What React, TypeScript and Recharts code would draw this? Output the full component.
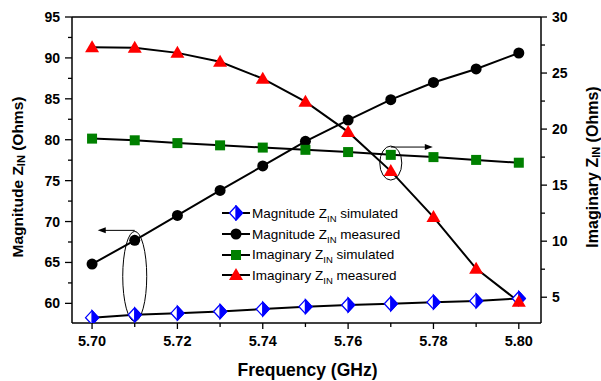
import { LineChart, Line, XAxis, YAxis, ReferenceLine, ReferenceDot, Legend } from 'recharts'

const freq = [5.70, 5.71, 5.72, 5.73, 5.74, 5.75, 5.76, 5.77, 5.78, 5.79, 5.80]
const magSimulated = [58.25, 58.6, 58.8, 59.0, 59.3, 59.6, 59.8, 59.95, 60.15, 60.3, 60.6]
const magMeasured = [64.8, 67.7, 70.75, 73.8, 76.8, 79.8, 82.4, 84.9, 87.0, 88.65, 90.6]
const imagSimulated = [19.15, 19.0, 18.75, 18.55, 18.35, 18.15, 17.95, 17.7, 17.5, 17.25, 17.0]
const imagMeasured = [27.3, 27.25, 26.8, 26.0, 24.5, 22.45, 19.75, 16.25, 12.15, 7.55, 4.6]

const xTicks = [5.70, 5.71, 5.72, 5.73, 5.74, 5.75, 5.76, 5.77, 5.78, 5.79, 5.80]
const leftTicks = [60, 62.5, 65, 67.5, 70, 72.5, 75, 77.5, 80, 82.5, 85, 87.5, 90, 92.5, 95]
const rightTicks = [5, 7.5, 10, 12.5, 15, 17.5, 20, 22.5, 25, 27.5, 30]

const data = freq.map((f, i) => ({
    f,
    magSim: magSimulated[i],
    magMeas: magMeasured[i],
    imagSim: imagSimulated[i],
    imagMeas: imagMeasured[i],
}))

const FONT = '"Liberation Sans", Arial, sans-serif'
const BLUE = '#0000ff'
const GREEN = '#008000'
const RED = '#ff0000'

function Diamond({ cx, cy }: any) {
    return (
        <g>
            <polygon points={`${cx},${cy - 7} ${cx + 6.5},${cy} ${cx},${cy + 7} ${cx - 6.5},${cy}`} fill="#fff" stroke={BLUE} strokeWidth={1.3} />
            <polygon points={`${cx},${cy - 7} ${cx + 6.5},${cy} ${cx},${cy + 7}`} fill={BLUE} stroke={BLUE} strokeWidth={1.3} />
        </g>
    )
}
function Circle({ cx, cy }: any) {
    return <circle cx={cx} cy={cy} r={5.5} fill="#000" />
}
function Square({ cx, cy }: any) {
    return <rect x={cx - 5} y={cy - 5} width={10} height={10} fill={GREEN} />
}
function Triangle({ cx, cy }: any) {
    return <polygon points={`${cx},${cy - 7} ${cx + 7},${cy + 5} ${cx - 7},${cy + 5}`} fill={RED} />
}

const XTick = ({ x, y, payload }: any) => {
    const major = Math.round(payload.value * 100) % 2 === 0
    return (
        <g>
            <line x1={x} x2={x} y1={y} y2={y + (major ? 6 : 4)} stroke="#000" strokeWidth={1.3} />
            {major && (
                <text x={x} y={y + 23} textAnchor="middle" fontFamily={FONT} fontWeight="bold" fontSize={14.5} fill="#000">
                    {payload.value.toFixed(2)}
                </text>
            )}
        </g>
    )
}
const TopTick = ({ x, y, payload }: any) => {
    const major = Math.round(payload.value * 100) % 2 === 0
    return <line x1={x} x2={x} y1={y} y2={y + (major ? 6 : 4)} stroke="#000" strokeWidth={1.3} />
}
const LeftTick = ({ x, y, payload }: any) => {
    const major = payload.value % 5 === 0
    return (
        <g>
            <line x1={x - (major ? 7 : 4)} x2={x} y1={y} y2={y} stroke="#000" strokeWidth={1.3} />
            {major && (
                <text x={x - 12} y={y} dy={5} textAnchor="end" fontFamily={FONT} fontWeight="bold" fontSize={14} fill="#000">
                    {payload.value}
                </text>
            )}
        </g>
    )
}
const RightTick = ({ x, y, payload }: any) => {
    const major = payload.value % 5 === 0
    return (
        <g>
            <line x1={x} x2={x + (major ? 6 : 4)} y1={y} y2={y} stroke="#000" strokeWidth={1.3} />
            {major && (
                <text x={x + 11} y={y} dy={5} textAnchor="start" fontFamily={FONT} fontWeight="bold" fontSize={14} fill="#000">
                    {payload.value}
                </text>
            )}
        </g>
    )
}

const legendItems = [
    { name: 'Magnitude', kind: 'simulated', Marker: Diamond },
    { name: 'Magnitude', kind: 'measured', Marker: Circle },
    { name: 'Imaginary', kind: 'simulated', Marker: Square },
    { name: 'Imaginary', kind: 'measured', Marker: Triangle },
]

function LegendBox() {
    return (
        <div style={{ fontFamily: FONT, fontSize: 13.5, color: '#000' }}>
            {legendItems.map((it, i) => (
                <div key={i} style={{ display: 'flex', alignItems: 'center', height: 20.7, whiteSpace: 'nowrap' }}>
                    <svg width={28} height={16}>
                        <line x1={0} x2={28} y1={8} y2={8} stroke="#000" strokeWidth={2} />
                        <it.Marker cx={14} cy={8} />
                    </svg>
                    <span style={{ marginLeft: 2 }}>
                        {it.name} Z<span style={{ fontSize: 9.5, position: 'relative', top: 4 }}>IN</span> {it.kind}
                    </span>
                </div>
            ))}
        </div>
    )
}

function leftTitle({ viewBox }: any) {
    const x = viewBox.x - 5
    const y = viewBox.y + viewBox.height / 2 + 7
    return (
        <text x={x} y={y} transform={`rotate(-90, ${x}, ${y})`} textAnchor="middle" dominantBaseline="central" fontFamily={FONT} fontWeight="bold" fontSize={15.5} fill="#000">
            Magnitude Z<tspan fontSize={11} dy={4}>IN</tspan><tspan dy={-4}> (Ohms)</tspan>
        </text>
    )
}
function rightTitle({ viewBox }: any) {
    const x = viewBox.x + 51
    const y = viewBox.y + viewBox.height / 2 - 3
    return (
        <text x={x} y={y} transform={`rotate(-90, ${x}, ${y})`} textAnchor="middle" dominantBaseline="central" fontFamily={FONT} fontWeight="bold" fontSize={16} fill="#000">
            Imaginary Z<tspan fontSize={11} dy={4}>IN</tspan><tspan dy={-4}> (Ohms)</tspan>
        </text>
    )
}
function bottomTitle({ viewBox }: any) {
    const x = viewBox.x + viewBox.width / 2 + 1
    const y = viewBox.y + 47
    return (
        <text x={x} y={y} textAnchor="middle" dominantBaseline="central" fontFamily={FONT} fontWeight="bold" fontSize={17.5} fill="#000">
            Frequency (GHz)
        </text>
    )
}

const LeftNote = ({ cx, cy }: any) => (
    <g>
        <ellipse cx={cx} cy={cy} rx={12} ry={45} fill="none" stroke="#000" strokeWidth={1} />
        <line x1={cx} x2={cx - 30} y1={cy - 46} y2={cy - 46} stroke="#000" strokeWidth={1} />
        <polygon points={`${cx - 37},${cy - 46} ${cx - 29},${cy - 49} ${cx - 29},${cy - 43}`} fill="#000" />
    </g>
)
const RightNote = ({ cx, cy }: any) => (
    <g>
        <ellipse cx={cx} cy={cy} rx={11} ry={17} fill="none" stroke="#000" strokeWidth={1} />
        <line x1={cx} x2={cx + 35} y1={cy - 16} y2={cy - 16} stroke="#000" strokeWidth={1} />
        <polygon points={`${cx + 42},${cy - 16} ${cx + 34},${cy - 19} ${cx + 34},${cy - 13}`} fill="#000" />
    </g>
)

export default function App() {
    return (
        <div style={{ position: 'absolute', left: 0, top: 0, background: '#fff' }}>
            <LineChart width={601} height={381} data={data} margin={{ top: 17, right: 10, bottom: 18, left: 22 }}>
                <XAxis
                    dataKey="f"
                    type="number"
                    domain={[5.6953, 5.8052]}
                    allowDataOverflow
                    ticks={xTicks}
                    interval={0}
                    height={40}
                    tickSize={0}
                    tickMargin={0}
                    tickLine={false}
                    tick={<XTick />}
                    axisLine={{ stroke: '#000', strokeWidth: 1.5 }}
                    label={{ content: bottomTitle }}
                />
                <XAxis
                    xAxisId="top"
                    orientation="top"
                    type="number"
                    domain={[5.6953, 5.8052]}
                    allowDataOverflow
                    ticks={xTicks}
                    interval={0}
                    height={0}
                    tickSize={0}
                    tickMargin={0}
                    tickLine={false}
                    tick={<TopTick />}
                    axisLine={false}
                />
                <YAxis
                    yAxisId="left"
                    type="number"
                    domain={[57.6, 95]}
                    allowDataOverflow
                    ticks={leftTicks}
                    interval={0}
                    width={50}
                    tickSize={0}
                    tickMargin={0}
                    tickLine={false}
                    tick={<LeftTick />}
                    axisLine={{ stroke: '#000', strokeWidth: 1.5 }}
                    label={{ content: leftTitle }}
                />
                <YAxis
                    yAxisId="right"
                    orientation="right"
                    type="number"
                    domain={[2.7, 30]}
                    allowDataOverflow
                    ticks={rightTicks}
                    interval={0}
                    width={50}
                    tickSize={0}
                    tickMargin={0}
                    tickLine={false}
                    tick={<RightTick />}
                    axisLine={{ stroke: '#000', strokeWidth: 1.5 }}
                    label={{ content: rightTitle }}
                />
                <ReferenceLine yAxisId="left" y={95} stroke="#000" strokeWidth={1.5} />
                <Line yAxisId="left" dataKey="magSim" stroke="#000" strokeWidth={2} dot={<Diamond />} activeDot={false} isAnimationActive={false} />
                <Line yAxisId="left" dataKey="magMeas" stroke="#000" strokeWidth={2} dot={<Circle />} activeDot={false} isAnimationActive={false} />
                <Line yAxisId="right" dataKey="imagSim" stroke="#000" strokeWidth={2} dot={<Square />} activeDot={false} isAnimationActive={false} />
                <Line yAxisId="right" dataKey="imagMeas" stroke="#000" strokeWidth={2} dot={<Triangle />} activeDot={false} isAnimationActive={false} />
                <ReferenceDot yAxisId="left" x={5.71} y={63.3} shape={(p: any) => <LeftNote {...p} />} />
                <ReferenceDot yAxisId="right" x={5.77} y={16.97} shape={(p: any) => <RightNote {...p} />} />
                <Legend
                    layout="horizontal"
                    verticalAlign="middle"
                    align="center"
                    content={() => <LegendBox />}
                    wrapperStyle={{ position: 'absolute', left: 222, top: 203, width: 'auto', height: 'auto' }}
                />
            </LineChart>
        </div>
    )
}
